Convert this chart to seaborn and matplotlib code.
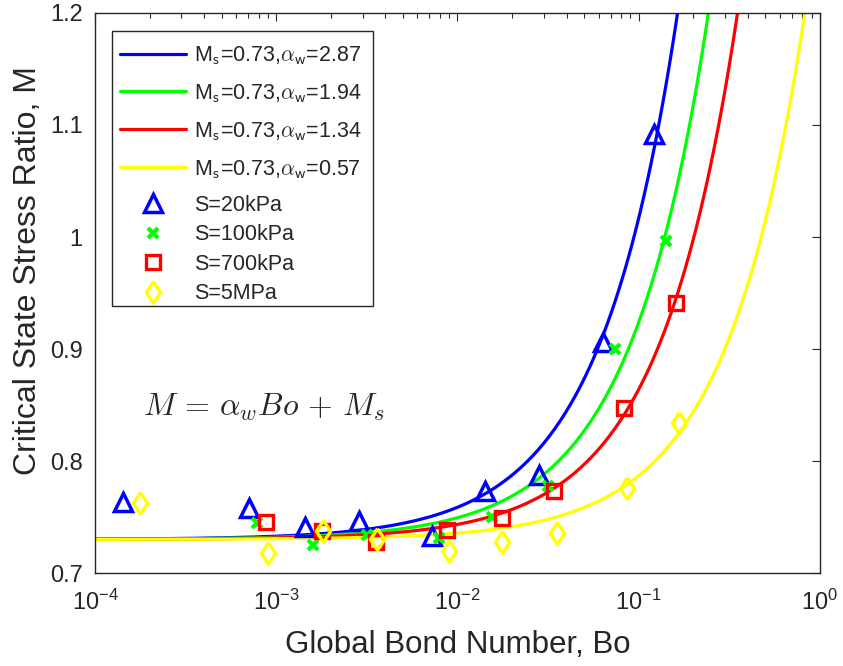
import numpy as np
import pandas as pd
import matplotlib
matplotlib.use("Agg")
import matplotlib.pyplot as plt
from matplotlib.patches import Rectangle
import seaborn as sns

sns.set_theme(style="white")
plt.rcParams["font.family"] = ["Liberation Sans", "DejaVu Sans"]
plt.rcParams["mathtext.fontset"] = "cm"

# Fitted model M = alpha_w * Bo + M_s
ms_value = 0.73
alpha_values = [2.87, 1.94, 1.34, 0.57]
curve_colors = ["#0000ff", "#00ff00", "#ff0000", "#ffff00"]

# Measured critical state stress ratios for each confining stress
bo_20kpa = [1.43e-4, 7.1e-4, 1.44e-3, 2.87e-3, 7.2e-3, 1.42e-2, 2.82e-2, 6.37e-2, 0.121]
m_20kpa = [0.7637, 0.7578, 0.7413, 0.7467, 0.733, 0.7735, 0.7878, 0.9065, 1.092]

bo_100kpa = [7.8e-4, 1.6e-3, 3.18e-3, 7.9e-3, 1.56e-2, 3.17e-2, 7.4e-2, 0.141]
m_100kpa = [0.7444, 0.725, 0.734, 0.731, 0.7497, 0.7777, 0.900, 0.9964]

bo_700kpa = [8.75e-4, 1.78e-3, 3.55e-3, 8.7e-3, 1.75e-2, 3.42e-2, 8.3e-2, 0.160]
m_700kpa = [0.7458, 0.7378, 0.728, 0.7384, 0.7494, 0.7732, 0.8476, 0.9413]

bo_5mpa = [1.77e-4, 9.0e-4, 1.8e-3, 3.58e-3, 8.97e-3, 1.77e-2, 3.56e-2, 8.57e-2, 0.1675]
m_5mpa = [0.7622, 0.718, 0.7378, 0.730, 0.720, 0.728, 0.7354, 0.7756, 0.8337]

series_labels = ["S=20kPa", "S=100kPa", "S=700kPa", "S=5MPa"]

# diamond a little narrower than it is tall
diamond = [(0, 1), (0.66, 0), (0, -1), (-0.66, 0), (0, 1)]

fig = plt.figure(figsize=(8.43, 6.66), dpi=100)
ax = fig.add_axes([0.1127, 0.1396, 0.8600, 0.8409])

bo_grid = np.logspace(-4, 0, 400)
for alpha, color in zip(alpha_values, curve_colors):
    curve = pd.DataFrame({"Bo": bo_grid, "M": alpha * bo_grid + ms_value})
    sns.lineplot(data=curve, x="Bo", y="M", ax=ax, color=color, linewidth=2.3,
                 estimator=None, sort=False,
                 label=rf"M$_{{\mathsf{{s}}}}$={ms_value:.2f},$\alpha_{{\mathsf{{w}}}}$={alpha:.2f}")

marker_specs = [
    (bo_20kpa, m_20kpa, "^", "#0000ff", 13, 2.5),
    (bo_100kpa, m_100kpa, "x", "#00ff00", 6.5, 3.0),
    (bo_700kpa, m_700kpa, "s", "#ff0000", 9.5, 2.4),
    (bo_5mpa, m_5mpa, diamond, "#ffff00", 15.5, 2.4),
]
for (bo, m, mk, color, size, ew), label in zip(marker_specs, series_labels):
    pts = pd.DataFrame({"Bo": bo, "M": m})
    sns.lineplot(data=pts, x="Bo", y="M", ax=ax, estimator=None, sort=False,
                 linestyle="none", marker=mk, markersize=size,
                 markerfacecolor="none", markeredgecolor=color, color=color,
                 markeredgewidth=ew, label=label)

ax.set_xscale("log")
ax.set_xlim(1e-4, 1e0)
ax.set_ylim(0.7, 1.2)
ax.set_yticks([0.7, 0.8, 0.9, 1.0, 1.1, 1.2])
ax.set_yticklabels(["0.7", "0.8", "0.9", "1", "1.1", "1.2"])
ax.set_xticks([1e-4, 1e-3, 1e-2, 1e-1, 1e0])

frame_color = "#262626"
for side in ax.spines.values():
    side.set_color(frame_color)
    side.set_linewidth(1.0)
ax.tick_params(which="both", direction="in", top=True, right=True,
               colors=frame_color, labelsize=17, labelcolor=frame_color)
ax.tick_params(which="major", length=6, width=0.8)
ax.tick_params(which="minor", length=3.5, width=0.8)
ax.tick_params(axis="x", which="major", pad=12)
ax.tick_params(axis="y", which="major", pad=9)

ax.set_xlabel("Global Bond Number, Bo", fontsize=22.5, color=frame_color, labelpad=11)
ax.set_ylabel("Critical State Stress Ratio, M", fontsize=23, color=frame_color)
ax.yaxis.set_label_coords(-0.072, 0.54)

ax.text(1.85e-4, 0.848, r"$M\,=\,\alpha_w Bo\,+\,M_s$", fontsize=23, va="center", ha="left")

# Legend: fitted curves on top, measured series below, inside one frame
handles, labels = ax.get_legend_handles_labels()
common = dict(loc="upper left", borderaxespad=0, fontsize=15.5, handlelength=3.1,
              frameon=False, borderpad=0.35, handletextpad=0.35)
leg_curves = ax.legend(handles[:4], labels[:4], bbox_to_anchor=(0.0234, 0.958),
                       labelspacing=0.71, **common)
ax.add_artist(leg_curves)
ax.legend(handles[4:], labels[4:], bbox_to_anchor=(0.0234, 0.6884),
          labelspacing=0.39, **common)
ax.add_patch(Rectangle((0.02345, 0.4768), 0.3600, 0.4911, transform=ax.transAxes,
                       facecolor="white", edgecolor=frame_color, linewidth=1.0,
                       zorder=4.9))

fig.savefig("out.png", dpi=100)
